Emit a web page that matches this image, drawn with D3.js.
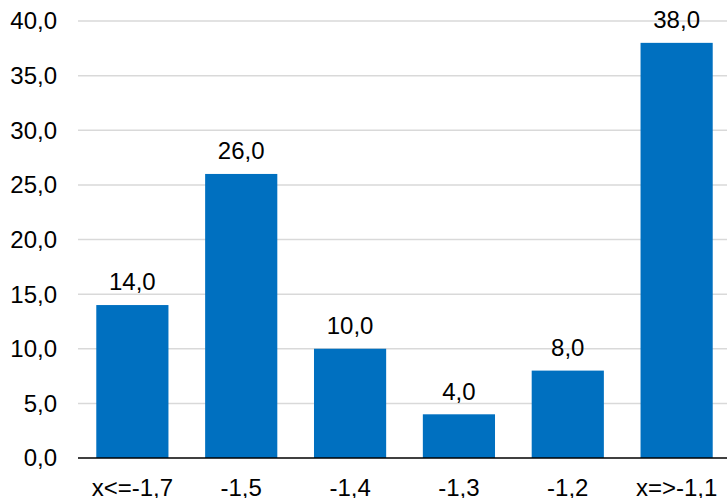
<!DOCTYPE html>
<html><head><meta charset="utf-8">
<script src="https://cdn.jsdelivr.net/npm/d3@7"></script>
<style>body{margin:0;background:#fff}svg{display:block}</style>
</head><body>
<svg id="c" width="727" height="498"></svg>
<script>
const categories = ["x<=-1,7","-1,5","-1,4","-1,3","-1,2","x=>-1,1"];
const values = [14,26,10,4,8,38];
const yTicks = [0,5,10,15,20,25,30,35,40];

const svg = d3.select("#c");
const fmt = v => d3.format(".1f")(v).replace(".", ",");
const font = "Liberation Sans, Arial, sans-serif";
const fs = 24;
const x = d3.scaleBand().domain(categories).range([78, 731]).paddingInner(0.337).paddingOuter(0.168);
const y = d3.scaleLinear().domain([0,40]).range([458, 21]);

svg.append("g").selectAll("line").data(yTicks.filter(d=>d>0)).join("line")
  .attr("x1",78).attr("x2",727).attr("y1",d=>y(d)).attr("y2",d=>y(d))
  .attr("stroke","#d9d9d9").attr("stroke-width",1.5);

svg.append("g").selectAll("text").data(yTicks).join("text")
  .attr("x",57).attr("y",d=>y(d)).attr("dy","0.35em").attr("text-anchor","end")
  .attr("font-family",font).attr("font-size",fs).attr("fill","#000").text(fmt);

svg.append("g").selectAll("rect").data(values).join("rect")
  .attr("x",(d,i)=>x(categories[i])).attr("width",x.bandwidth())
  .attr("y",d=>y(d)).attr("height",d=>y(0)-y(d)).attr("fill","#0070C0");

svg.append("g").selectAll("text").data(values).join("text")
  .attr("x",(d,i)=>x(categories[i])+x.bandwidth()/2).attr("y",d=>y(d)-23).attr("dy","0.35em")
  .attr("text-anchor","middle").attr("font-family",font).attr("font-size",fs).attr("fill","#000").text(fmt);

svg.append("line").attr("x1",78).attr("x2",727).attr("y1",y(0)).attr("y2",y(0))
  .attr("stroke","#000").attr("stroke-width",1.5);

svg.append("g").selectAll("text").data(categories).join("text")
  .attr("x",d=>x(d)+x.bandwidth()/2).attr("y",488).attr("dy","0.35em")
  .attr("text-anchor","middle").attr("font-family",font).attr("font-size",fs).attr("fill","#000").text(d=>d);
</script>
</body></html>
